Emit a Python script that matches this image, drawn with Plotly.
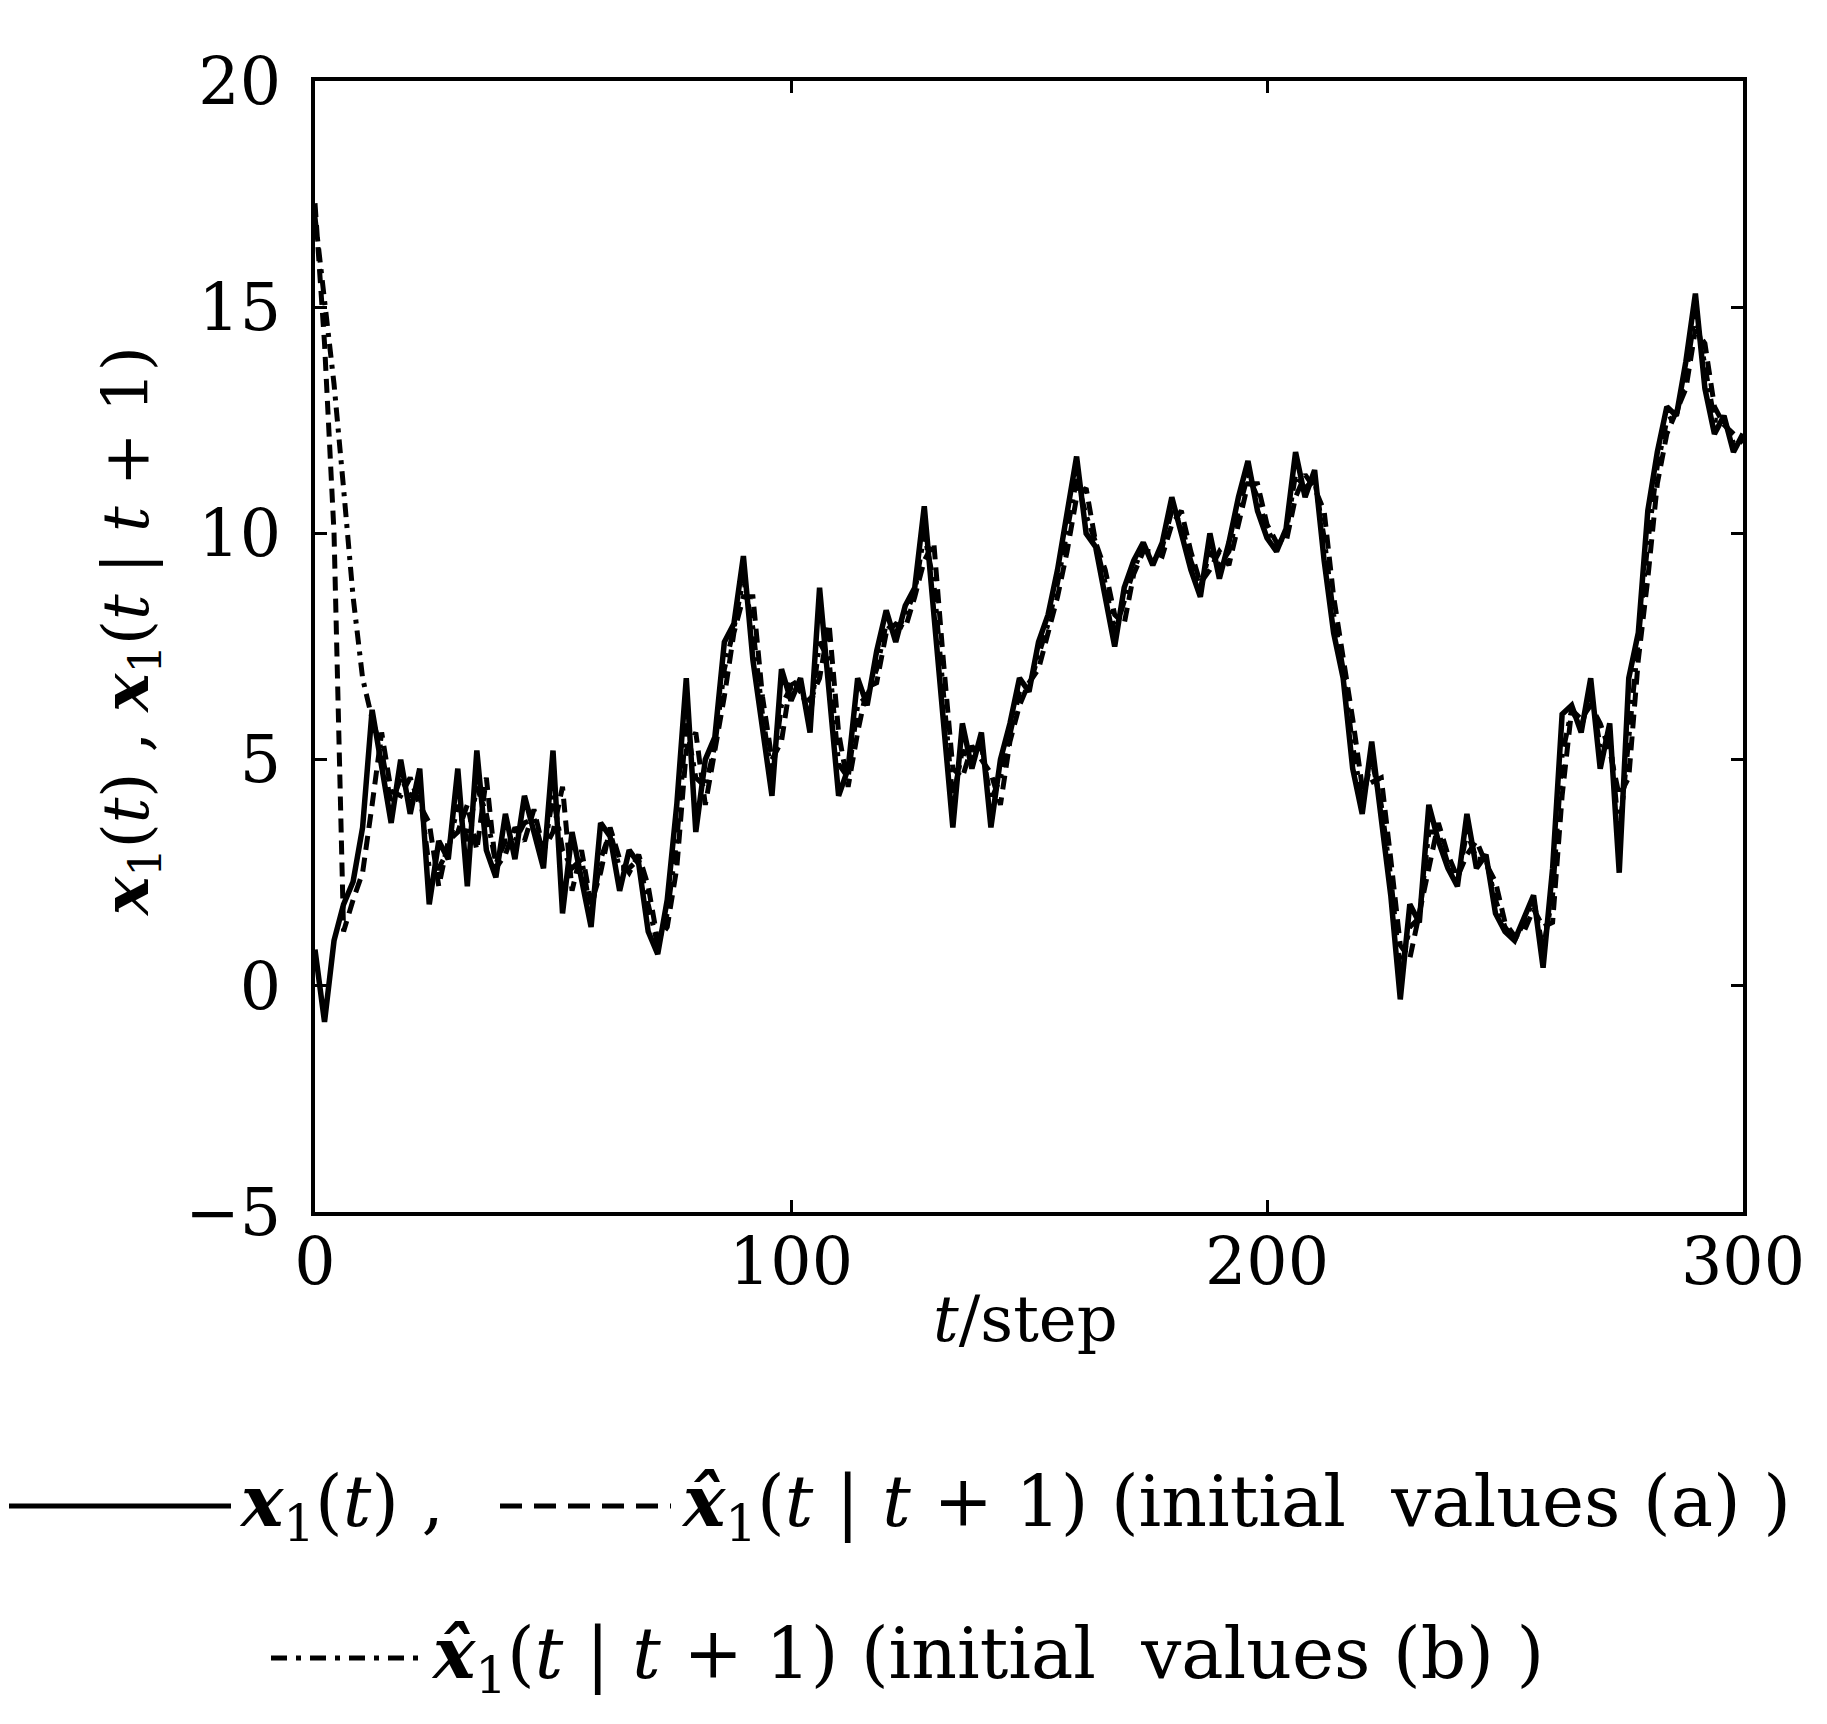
import plotly.graph_objects as go

# time steps (every 2 steps)
steps = list(range(0, 301, 2))

# x1(t) - true state
x1 = [
    0.8, -0.8, 1.0, 1.8, 2.3, 3.5, 6.1, 4.8, 3.6, 5.0,
    3.8, 4.8, 1.8, 3.2, 2.8, 4.8, 2.2, 5.2, 3.0, 2.4,
    3.8, 2.8, 4.2, 3.4, 2.6, 5.2, 1.6, 3.4, 2.4, 1.3,
    3.6, 3.3, 2.1, 3.0, 2.7, 1.2, 0.7, 1.9, 4.0, 6.8,
    3.4, 5.0, 5.5, 7.6, 8.0, 9.5, 7.2, 5.6, 4.2, 7.0,
    6.3, 6.8, 5.6, 8.8, 6.6, 4.2, 4.8, 6.8, 6.2, 7.4,
    8.3, 7.6, 8.4, 8.8, 10.6, 8.2, 6.0, 3.5, 5.8, 4.8,
    5.6, 3.5, 5.0, 5.8, 6.8, 6.5, 7.6, 8.2, 9.2, 10.4,
    11.7, 10.0, 9.7, 8.6, 7.5, 8.8, 9.4, 9.8, 9.3, 9.8,
    10.8, 10.0, 9.2, 8.6, 10.0, 9.0, 9.8, 10.8, 11.6, 10.5,
    9.9, 9.6, 10.1, 11.8, 10.8, 11.4, 9.4, 7.8, 6.8, 4.8,
    3.8, 5.4, 3.6, 2.0, -0.3, 1.8, 1.4, 4.0, 3.2, 2.6,
    2.2, 3.8, 2.6, 2.9, 1.6, 1.2, 1.0, 1.5, 2.0, 0.4,
    2.6, 6.0, 6.2, 5.6, 6.8, 4.8, 5.8, 2.5, 6.8, 7.8,
    10.5, 11.8, 12.8, 12.6, 13.8, 15.3, 13.2, 12.2, 12.6, 11.8,
    12.2,
]

# x1_hat(t|t+1), initial values (a)
est_a = [
    17.3, 14.2, 10.0, 1.2, 1.9, 2.5, 4.0, 5.6, 4.3, 4.2,
    4.6, 4.0, 3.6, 2.2, 3.2, 3.4, 4.0, 3.0, 4.6, 2.6,
    2.9, 3.5, 3.2, 3.9, 3.0, 3.4, 4.4, 2.1, 3.0, 1.8,
    2.5, 3.5, 2.8, 2.5, 2.9, 2.2, 1.0, 1.3, 2.6, 5.2,
    5.6, 4.0, 5.2, 6.4, 7.8, 8.6, 8.6, 6.4, 5.0, 5.4,
    6.8, 6.5, 6.3, 6.8, 8.0, 5.6, 4.4, 5.6, 6.6, 6.7,
    7.8, 8.0, 7.9, 8.6, 9.4, 9.8, 7.2, 4.8, 4.6, 5.3,
    5.0, 4.7, 4.0, 5.4, 6.2, 6.7, 7.0, 7.8, 8.6, 9.6,
    10.8, 11.0, 9.8, 9.2, 8.2, 8.0, 9.1, 9.6, 9.6, 9.5,
    10.2, 10.5, 9.6, 8.9, 9.2, 9.6, 9.3, 10.2, 11.1, 11.1,
    10.2, 9.8, 9.8, 10.8, 11.3, 11.0, 10.5, 8.6, 7.3, 5.9,
    4.4, 4.5, 4.6, 2.8, 0.9, 0.6, 1.6, 2.6, 3.6, 2.9,
    2.4, 2.9, 3.2, 2.7, 2.3, 1.4, 1.1, 1.2, 1.7, 1.3,
    1.4, 4.2, 6.1, 5.9, 6.2, 5.8, 5.2, 4.2, 4.6, 7.2,
    9.0, 11.1, 12.2, 12.7, 13.2, 14.5, 14.2, 12.8, 12.4, 12.2,
    12.0,
]

# x1_hat(t|t+1), initial values (b)
est_b = [
    17.0, 15.2, 13.3, 11.0, 8.6, 6.8, 5.9, 5.2, 4.0, 4.6,
    4.2, 4.3, 2.6, 2.6, 3.0, 4.0, 3.2, 4.4, 3.8, 2.7,
    3.2, 3.2, 3.6, 3.7, 2.9, 4.2, 3.0, 2.6, 2.8, 1.6,
    2.8, 3.4, 2.6, 2.6, 2.8, 1.8, 0.9, 1.6, 3.2, 5.8,
    4.6, 4.4, 5.3, 7.0, 7.9, 9.0, 7.9, 6.0, 4.6, 6.2,
    6.6, 6.6, 5.9, 7.6, 7.2, 4.9, 4.6, 6.2, 6.4, 7.0,
    8.0, 7.8, 8.2, 8.7, 10.0, 8.9, 6.6, 4.1, 5.2, 5.0,
    5.3, 4.1, 4.6, 5.6, 6.5, 6.6, 7.3, 8.0, 8.9, 10.0,
    11.2, 10.4, 9.8, 8.9, 7.8, 8.5, 9.2, 9.7, 9.4, 9.7,
    10.5, 10.2, 9.4, 8.8, 9.6, 9.3, 9.6, 10.5, 11.3, 10.8,
    10.1, 9.7, 10.0, 11.3, 11.0, 11.2, 9.9, 8.2, 7.0, 5.3,
    4.1, 5.0, 4.0, 2.4, 0.3, 1.3, 1.5, 3.4, 3.4, 2.7,
    2.3, 3.4, 2.8, 2.8, 1.9, 1.3, 1.0, 1.4, 1.9, 0.8,
    2.0, 5.1, 6.1, 5.7, 6.5, 5.3, 5.6, 3.3, 5.5, 7.5,
    9.8, 11.5, 12.5, 12.6, 13.5, 14.9, 13.7, 12.5, 12.5, 12.0,
    12.1,
]

x_ticks = [0, 100, 200, 300]
y_ticks = [-5, 0, 5, 10, 15, 20]

FONT = "DejaVu Serif"
W, H = 1827, 1724
L, R, T, B = 307, 92, 73, 520
OFF = 5  # page offset seen in screenshot

fig = go.Figure()
fig.add_trace(go.Scatter(x=steps, y=est_b, mode="lines",
                         line=dict(color="black", width=5, dash="14px,7px,4px,7px")))
fig.add_trace(go.Scatter(x=steps, y=est_a, mode="lines",
                         line=dict(color="black", width=5, dash="14px,8px")))
fig.add_trace(go.Scatter(x=steps, y=x1, mode="lines",
                         line=dict(color="black", width=5.5)))

axis_common = dict(showline=True, linecolor="black", linewidth=4, mirror="ticks",
                   ticks="inside", ticklen=12, tickwidth=3, tickcolor="black",
                   showgrid=False, zeroline=False,
                   tickfont=dict(family=FONT, size=65, color="black"))

fig.update_xaxes(range=[0, 300], tickvals=x_ticks, ticklabelstandoff=-10, **axis_common)
fig.update_yaxes(range=[-5, 20], tickvals=y_ticks, ticklabelstandoff=17, **axis_common)

PW, PH = W - L - R, H - T - B

def px(xp):
    return (xp - OFF - L) / PW

def py(yp):
    return 1 - (yp - OFF - T) / PH

annotations = [
    # x-axis title
    dict(text="<i>t</i>/step", x=px(1022), y=py(1316), xref="paper", yref="paper",
         xanchor="center", yanchor="middle",
         showarrow=False, font=dict(family=FONT, size=64, color="black")),
    # y-axis title
    dict(text="<b><i>x</i></b><sub>1</sub>(<i>t</i>) , <b><i>x</i></b><sub>1</sub>(<i>t</i> | <i>t</i> + 1)",
         x=px(127), y=py(628), xref="paper", yref="paper", textangle=-90,
         xanchor="center", yanchor="middle",
         showarrow=False, font=dict(family=FONT, size=64, color="black")),
    # legend row 1
    dict(text="<b><i>x</i></b><sub>1</sub>(<i>t</i>) ,", x=px(234), y=py(1503),
         xref="paper", yref="paper", xanchor="left", yanchor="middle", showarrow=False,
         font=dict(family=FONT, size=71, color="black")),
    dict(text="<b><i>x̂</i></b><sub>1</sub>(<i>t</i> | <i>t</i> + 1) (initial  values (a) )",
         x=px(676), y=py(1503), xref="paper", yref="paper", xanchor="left", yanchor="middle",
         showarrow=False, font=dict(family=FONT, size=71, color="black")),
    # legend row 2
    dict(text="<b><i>x̂</i></b><sub>1</sub>(<i>t</i> | <i>t</i> + 1) (initial  values (b) )",
         x=px(426), y=py(1655), xref="paper", yref="paper", xanchor="left", yanchor="middle",
         showarrow=False, font=dict(family=FONT, size=71, color="black")),
]

shapes = [
    dict(type="line", xref="paper", yref="paper", x0=px(6), x1=px(228), y0=py(1503), y1=py(1503),
         line=dict(color="black", width=5)),
    dict(type="line", xref="paper", yref="paper", x0=px(497), x1=px(668), y0=py(1503), y1=py(1503),
         line=dict(color="black", width=5, dash="22px,12px")),
    dict(type="line", xref="paper", yref="paper", x0=px(268), x1=px(420), y0=py(1655), y1=py(1655),
         line=dict(color="black", width=5, dash="16px,9px,5px,9px")),
]

fig.update_layout(width=W, height=H, margin=dict(l=L, r=R, t=T, b=B, autoexpand=False),
                  plot_bgcolor="white", paper_bgcolor="white", showlegend=False,
                  annotations=annotations, shapes=shapes,
                  font=dict(family=FONT, color="black"))

fig.write_html("out.html")
